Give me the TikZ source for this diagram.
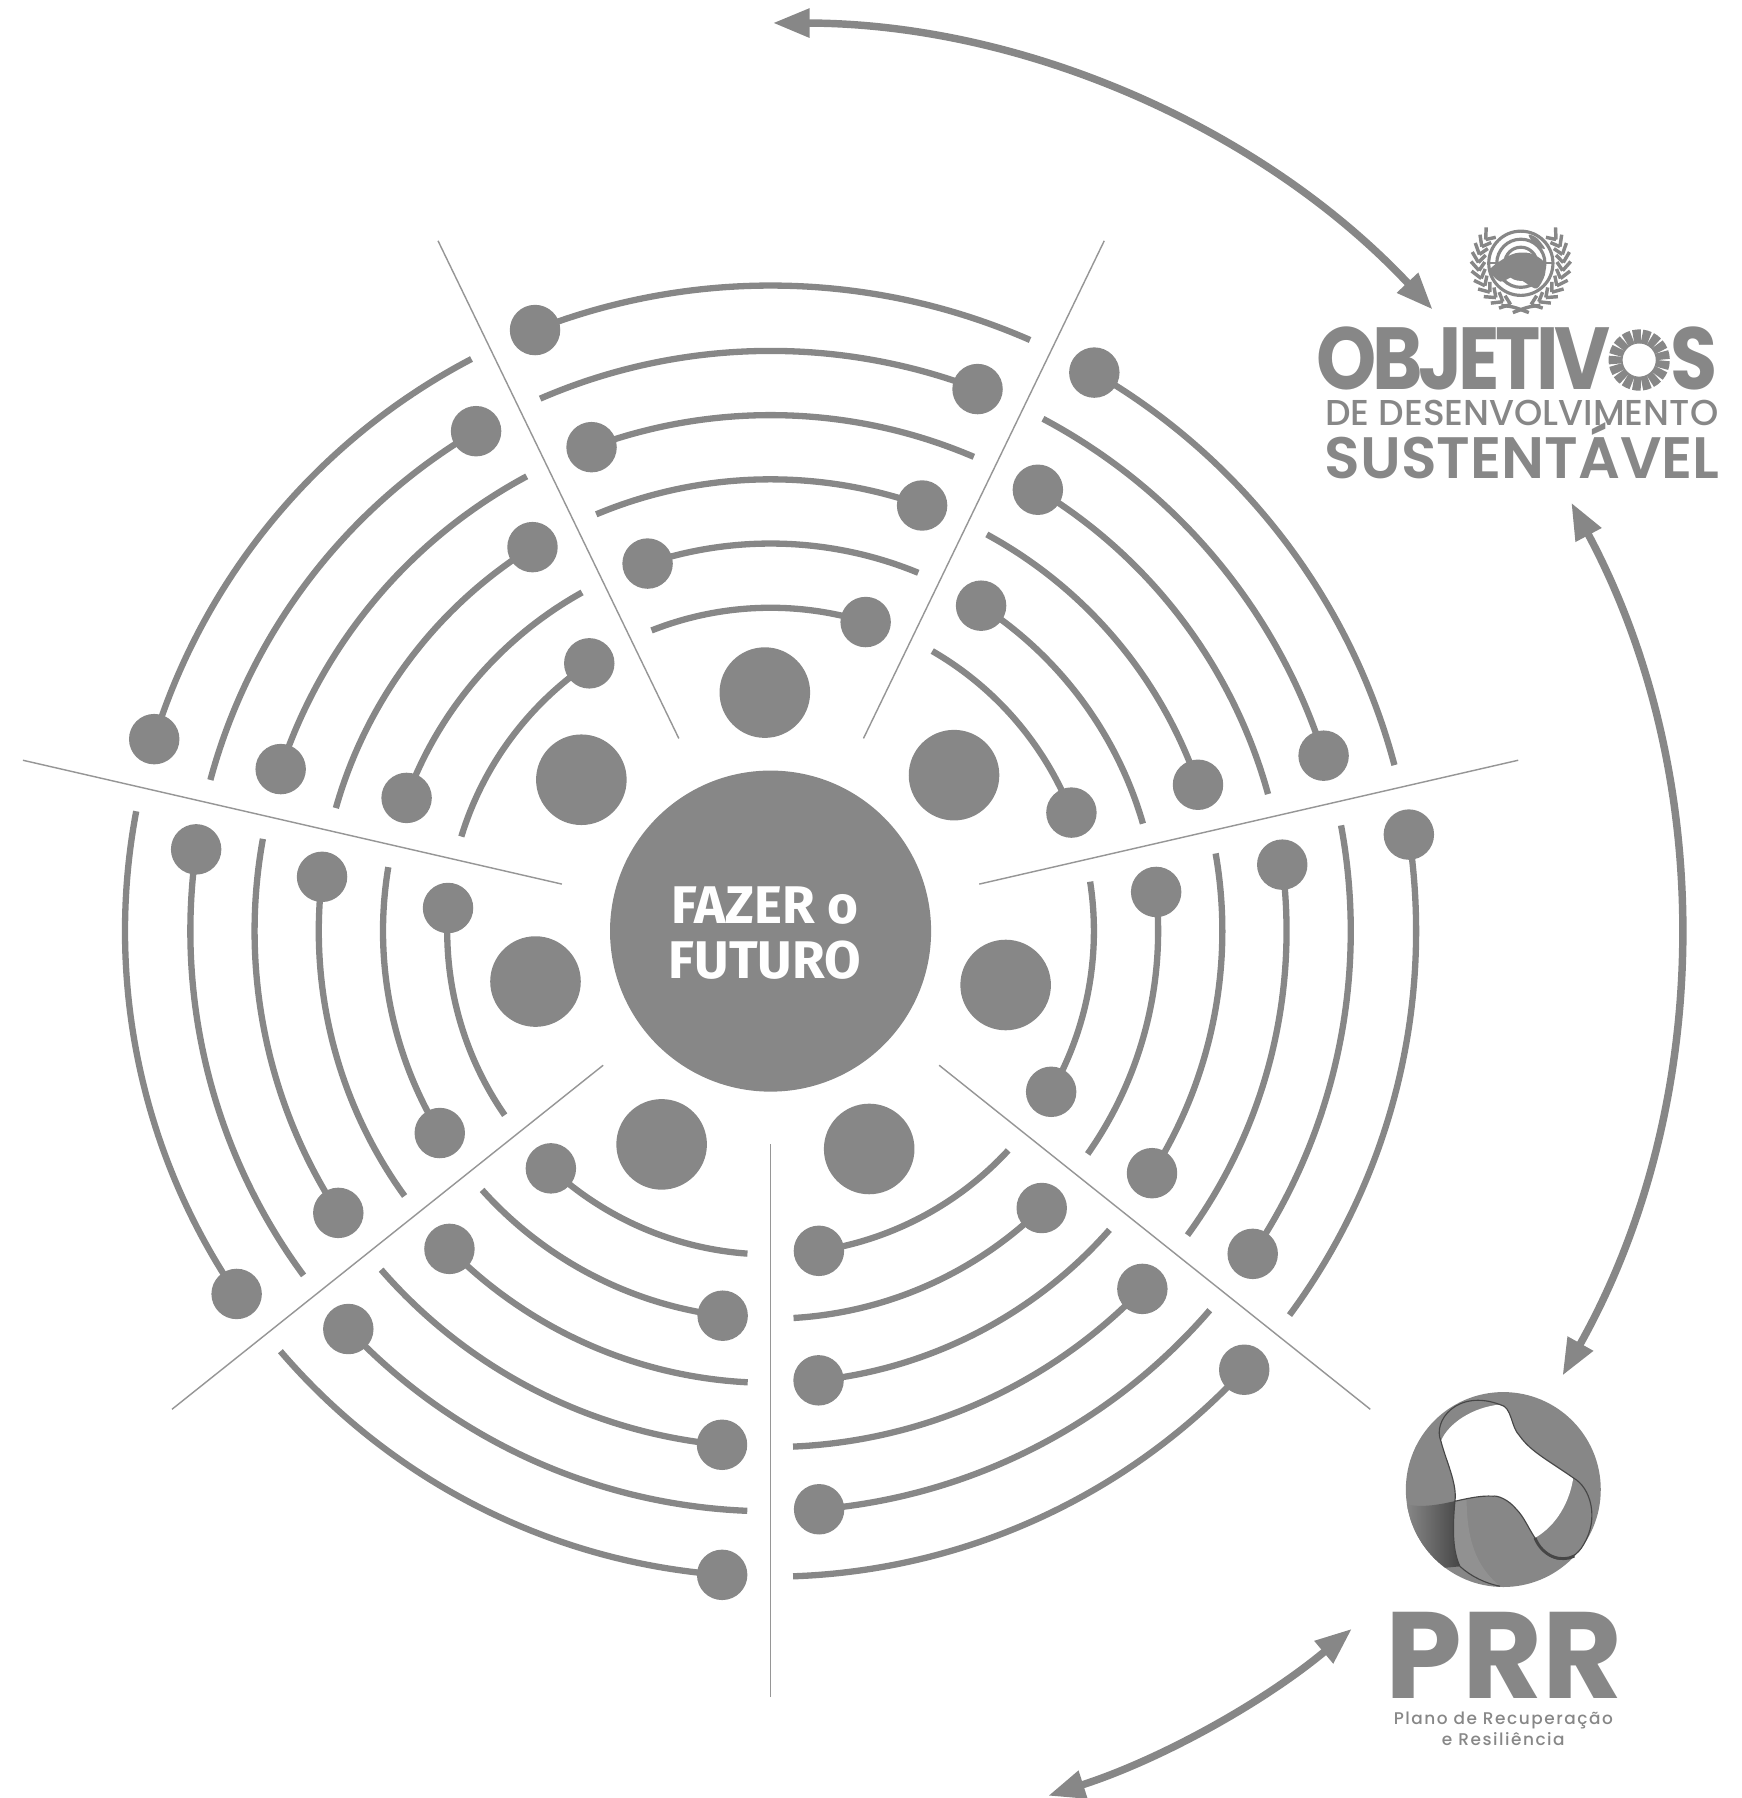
\documentclass[tikz,border=0pt]{standalone}
\usepackage{fontspec}
\usepackage{tikz}
\usetikzlibrary{arrows.meta,positioning,calc}
\setmainfont{Liberation Sans}
\newfontfamily\firafont{Fira Sans}
\newfontfamily\popfont{Poppins}
\newfontfamily\odsfont[FakeStretch=0.87,LetterSpace=-5]{Poppins}
\newfontfamily\midfont{Poppins Medium}
\newfontfamily\semifont{Poppins SemiBold}
\newfontfamily\prrfont[LetterSpace=9]{Poppins Medium}
\definecolor{DiscGray}{RGB}{135,135,135}
\definecolor{RuleGray}{RGB}{150,150,150}
\definecolor{BandGray}{RGB}{145,145,145}
\definecolor{InkGray}{RGB}{70,70,70}
\tikzset{
  hubdisc/.style={circle,fill=DiscGray,minimum size=56mm,inner sep=0pt},
  petal/.style={circle,fill=DiscGray,minimum size=15.8mm,inner sep=0pt},
  ringdot/.style={circle,fill=DiscGray,minimum size=8.8mm,inner sep=0pt},
  ringline/.style={DiscGray,line width=1.1mm},
  sectorline/.style={RuleGray,line width=0.25mm},
  bigarrow/.style={DiscGray,line width=1.3mm,{Triangle[length=6.4mm,width=4.8mm]}-{Triangle[length=6.4mm,width=4.8mm]}},
  leaf/.style={DiscGray,line width=0.6mm},
  logotext/.style={DiscGray,anchor=base,inner sep=0pt,align=center},
  outline/.style={InkGray,line width=0.2mm}
}
\begin{document}
\begin{tikzpicture}[x=0.2mm,y=0.2mm]
  \useasboundingbox (-672,812) rectangle (847,-756);
  \foreach \n/\xa/\ya/\xb/\yb in {a/291/602/81/168,b/652/149/182/41,c/523/-417/147/-117,
      d/0/-668/0/-186,e/-522/-417/-146/-117,f/-652/149/-182/41,g/-290/602/-80/168} {
    \coordinate (s\n1) at (\xa,\ya);
    \coordinate (s\n2) at (\xb,\yb);
    \draw[sectorline] (s\n1) -- (s\n2);
  }
  \foreach \n/\r/\da/\ea in {
      a1/563/111.4/66.3,a2/506/69.1/113.4,a3/450/110.3/66.8,a4/394/70.4/112.7,a5/338/108.5/67.6,a6/282/72.9/111.6,
      b1/563/59.9/14.9,b2/506/17.6/62.0,b3/450/58.8/15.4,b4/394/18.9/61.4,b5/338/57.1/16.1,b6/282/21.5/60.0,
      c1/563/8.6/-36.5,c2/506/-33.8/10.5,c3/450/7.4/-36.1,c4/394/-32.4/9.9,c5/338/5.8/-35.1,c6/282/-29.8/8.8,
      d1/563/-42.8/-88.0,d2/506/-85.2/-40.8,d3/450/-43.9/-87.5,d4/394/-83.9/-41.4,d5/338/-45.6/-86.6,d6/282/-81.4/-42.7,
      e1/563/-94.3/-139.4,e2/506/-136.7/-92.3,e3/450/-95.4/-139.0,e4/394/-135.3/-92.9,e5/338/-97.1/-138.1,e6/282/-132.8/-94.1,
      f1/563/-145.8/-190.7,f2/506/-188.1/-143.6,f3/450/-146.9/-190.3,f4/394/-186.9/-144.1,f5/338/-148.6/-189.5,f6/282/-184.1/-145.3,
      g1/563/162.7/117.6,g2/506/120.5/164.9,g3/450/161.7/118.2,g4/394/121.8/164.2,g5/338/159.9/119.1,g6/282/124.1/163.0} {
    \node[ringdot] (d\n) at (\da:\r) {};
    \draw[ringline] (d\n) arc[start angle=\da,end angle=\ea,radius=\r] coordinate (e\n);
  }
  \foreach \n/\x/\y in {a/-5/208,b/160/136,c/205/-47,d/86/-190,e/-95/-186,f/-205/-44,g/-165/132} {
    \node[petal] (p\n) at (\x,\y) {};
  }
  \node[hubdisc] (hub) at (0,0) {};
  \node[text=white,align=center,font=\firafont\bfseries\fontsize{26.3}{27.2}\selectfont] (hublabel) at (-5,-2) {FAZER o\\FUTURO};

  \coordinate (up1) at (89.85:792);
  \coordinate (mid1) at (28.15:792);
  \coordinate (low1) at (-50.2:792);
  \draw[bigarrow] (up1) arc[start angle=89.85,end angle=43.2,radius=792] coordinate (up2);
  \draw[bigarrow] (mid1) arc[start angle=28.15,end angle=-29.3,radius=792] coordinate (mid2);
  \draw[bigarrow] (low1) arc[start angle=-50.2,end angle=-72.2,radius=792] coordinate (low2);

  \node[logotext,font=\odsfont\bfseries\fontsize{43.7}{44}\selectfont] (odstitle) at (651,472) {OBJETIV\textcolor{white}{O}S};
  \node[logotext,font=\midfont\fontsize{17.85}{18}\selectfont] (odsline) at (655,441) {DE DESENVOLVIMENTO};
  \node[logotext,font=\semifont\fontsize{29}{30}\selectfont] (odsname) at (655.5,395) {SUSTENTÁVEL};
  \begin{scope}[shift={(757.5,498)}]
    \foreach \i in {0,...,16} {
      \pgfmathsetmacro{\sa}{\i*21.176+1.3}
      \draw[DiscGray,line width=2.45mm] (\sa:20.6) arc[start angle=\sa,delta angle=18.5,radius=20.6];
    }
  \end{scope}
  \begin{scope}[shift={(654.3,582.4)}]
    \foreach \r in {28,21,14,7} {\draw[DiscGray,line width=0.55mm] (0,0) circle[radius=\r];}
    \draw[DiscGray,line width=0.4mm] (-29,0) -- (29,0);
    \fill[DiscGray] plot[smooth cycle] coordinates {(-27,-6) (-16.5,3) (-5,8.7) (8,8.7) (20,1.5) (21,-10) (14,-22) (4,-17) (-6,-11.6) (-18,-16)};
    \fill[DiscGray] plot[smooth cycle] coordinates {(7,25) (14,22) (21,13) (16,14) (9,20)};
    \foreach \a in {146,157,...,256} {
      \draw[leaf] (\a:37) -- (\a-12:31.5);
      \draw[leaf] (\a:37) -- (\a-12:43.5);
      \draw[leaf] (180-\a:37) -- (192-\a:31.5);
      \draw[leaf] (180-\a:37) -- (192-\a:43.5);
    }
    \draw[DiscGray,line width=0.6mm] (-17,-37) .. controls (-8,-37) and (-4,-39) .. (7,-43);
    \draw[DiscGray,line width=0.6mm] (17,-37) .. controls (8,-37) and (4,-39) .. (-7,-43);
  \end{scope}

  \node[hubdisc,minimum size=34mm] (prrdisc) at (639,-487) {};
  \begin{scope}[shift={(639,-487)},yscale=-1]
    \begin{scope}
      \clip (0,0) circle[radius=85];
      \shade[left color=DiscGray,right color=InkGray]
        (-84.3,13) .. controls (-70,16) and (-55,13) .. (-42,10) .. controls (-44,30) and (-45,52) .. (-37.8,67) -- (-70,70) -- cycle;
      \fill[BandGray] (-42,10) .. controls (-44,30) and (-45,52) .. (-37.8,67) .. controls (-28,76) and (-15,82) .. (-2.9,84.3)
        .. controls (-20,70) and (-32,50) .. (-32,8) -- cycle;
    \end{scope}
    \fill[white] (-2.9,-74.1) .. controls (8,-72) and (6,-55) .. (14.5,-46.5) .. controls (24,-33) and (40,-25) .. (61,-10.2)
      .. controls (58,10) and (47,31) .. (27.6,42.2) .. controls (21,32) and (18,24) .. (11.6,17.4) .. controls (4,8) and (-6,5) .. (-8.7,5.8)
      .. controls (-20,5) and (-32,8) .. (-42.2,10.2) .. controls (-40,-5) and (-50,-25) .. (-54.4,-42.2)
      .. controls (-48,-58) and (-26,-72) .. cycle;
    \draw[outline] (-2.9,-74.1) .. controls (8,-72) and (6,-55) .. (14.5,-46.5) .. controls (24,-33) and (40,-25) .. (61,-10.2)
      .. controls (76,-2) and (84,25) .. (70,48) .. controls (60,66) and (38,66) .. (27.6,42.2)
      .. controls (21,32) and (18,24) .. (11.6,17.4) .. controls (4,8) and (-6,5) .. (-8.7,5.8)
      .. controls (-20,5) and (-32,8) .. (-42.2,10.2) .. controls (-40,-5) and (-50,-25) .. (-54.4,-42.2)
      .. controls (-62,-60) and (-40,-88) .. (-2.9,-74.1);
    \draw[outline] (-42.2,10.2) .. controls (-44,30) and (-45,52) .. (-37.8,67) .. controls (-28,76) and (-15,82) .. (-2.9,84.3);
    \draw[outline,line width=0.5mm] (27.6,42.2) .. controls (34,58) and (50,64) .. (62,58);
  \end{scope}
  \node[logotext,font=\popfont\bfseries\fontsize{61}{62}\selectfont] (prrtitle) at (639.5,-669) {PRR};
  \node[logotext,font=\prrfont\fontsize{8.4}{9}\selectfont] (prrline) at (639,-692) {Plano de Recuperação};
  \node[logotext,font=\prrfont\fontsize{8.4}{9}\selectfont] (prrnote) at (639,-710) {e Resiliência};
\end{tikzpicture}
\end{document}
